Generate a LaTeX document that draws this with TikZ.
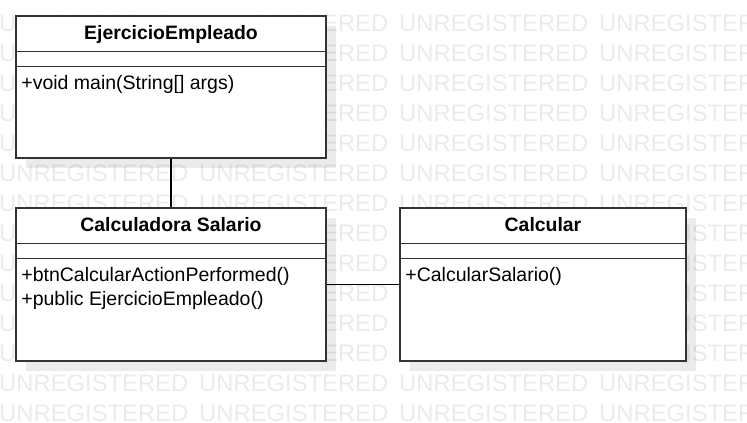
\documentclass[tikz,border=0pt]{standalone}
\usepackage{fontspec}
\setmainfont{Liberation Sans}
\usetikzlibrary{positioning,shadows}
\definecolor{umlline}{HTML}{333333}
\definecolor{wmgray}{HTML}{EBEBEB}

\begin{document}
\begin{tikzpicture}[x=1pt, y=-1pt,
    umlclass/.style = {draw=umlline, line width=1.6pt, fill=white, inner sep=0pt,
        drop shadow={shadow xshift=10pt, shadow yshift=-10pt, fill=black, opacity=0.08}},
    classname/.style = {anchor=base, inner sep=0pt, font=\fontsize{19.4}{24}\selectfont\bfseries},
    member/.style = {anchor=base west, inner sep=0pt, font=\fontsize{19.5}{24}\selectfont},
    divider/.style = {draw=umlline, line width=1.3pt},
    assoc/.style = {draw=black, line width=1.6pt},
    wm/.style = {anchor=base west, inner sep=0pt, text=wmgray, font=\fontsize{23.8}{24}\selectfont}]

    \useasboundingbox (0,0) rectangle (747,423);

    % watermark
    \foreach \r in {0,...,13}
      \foreach \c in {0,...,3}
        \node[wm] (wm-\r-\c) at (200*\c-1, 31+30*\r) {UNREGISTERED};

    % classes
    \node[umlclass, minimum width=310pt, minimum height=142pt] (ejercicio) at (171,87) {};
    \node[umlclass, minimum width=310pt, minimum height=153pt] (calculadora) at (171,284.5) {};
    \node[umlclass, minimum width=286pt, minimum height=153pt] (calcular) at (543,284.5) {};

    % compartments
    \foreach \cls in {ejercicio,calculadora,calcular} {
      \draw[divider] ([yshift=-36pt]\cls.north west) -- ([yshift=-36pt]\cls.north east);
      \draw[divider] ([yshift=-51pt]\cls.north west) -- ([yshift=-51pt]\cls.north east);
    }

    % names and operations
    \node[classname] (ejercicio-name) at ([yshift=-24pt]ejercicio.north) {EjercicioEmpleado};
    \node[member] (ejercicio-op1) at ([xshift=6pt,yshift=-74pt]ejercicio.north west) {+void main(String[] args)};

    \node[classname] (calculadora-name) at ([yshift=-24pt]calculadora.north) {Calculadora Salario};
    \node[member] (calculadora-op1) at ([xshift=6pt,yshift=-74pt]calculadora.north west) {+btnCalcularActionPerformed()};
    \node[member] (calculadora-op2) at ([xshift=6pt,yshift=-98pt]calculadora.north west) {+public EjercicioEmpleado()};

    \node[classname] (calcular-name) at ([yshift=-24pt]calcular.north) {Calcular};
    \node[member] (calcular-op1) at ([xshift=6pt,yshift=-74pt]calcular.north west) {+CalcularSalario()};

    % associations
    \draw[assoc] (ejercicio) -- (calculadora);
    \draw[assoc] (calculadora) -- (calcular);

\end{tikzpicture}
\end{document}
